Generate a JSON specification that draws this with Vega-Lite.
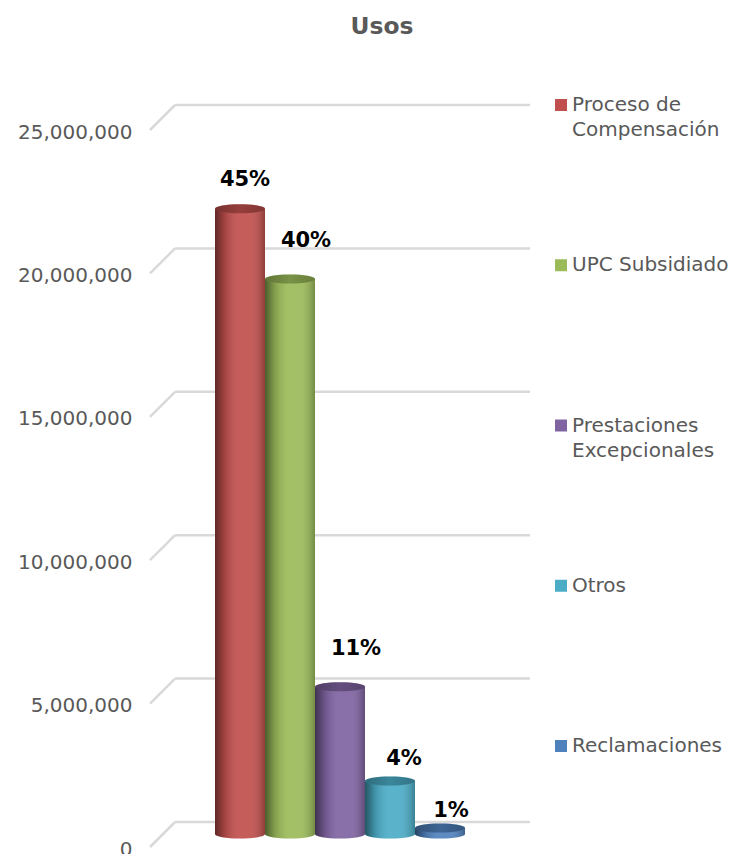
{
"$schema":"https://vega.github.io/schema/vega-lite/v6.json",
"width":380,"height":717,
"autosize":{"type":"none"},
"padding":{"left":150,"top":130,"right":202,"bottom":7},
"background":"white",
"title":{"text":"Usos","font":"DejaVu Sans","fontSize":23.4,"fontWeight":"bold","color":"#595959","anchor":"middle","frame":"group","dx":42,"offset":38,"baseline":"alphabetic"},
"datasets":{
"uses":[
{"categoria":"Proceso de Compensación","valor":21800000,"share":0.45},
{"categoria":"UPC Subsidiado","valor":19350000,"share":0.40},
{"categoria":"Prestaciones Excepcionales","valor":5130000,"share":0.11},
{"categoria":"Otros","valor":1850000,"share":0.04},
{"categoria":"Reclamaciones","valor":210000,"share":0.01}
],
"wall":[
{"tick":0,"front":0,"back":6.6,"right":100},
{"tick":5000000,"front":0,"back":6.6,"right":100},
{"tick":10000000,"front":0,"back":6.6,"right":100},
{"tick":15000000,"front":0,"back":6.6,"right":100},
{"tick":20000000,"front":0,"back":6.6,"right":100},
{"tick":25000000,"front":0,"back":6.6,"right":100}
]},
"resolve":{"scale":{"x":"independent"},"axis":{"x":"independent"}},
"layer":[
{"data":{"name":"wall"},
 "mark":{"type":"rule","color":"#D9D9D9","strokeWidth":2.5,"yOffset":-25,"y2Offset":-25},
 "encoding":{
  "x":{"field":"back","type":"quantitative","scale":{"domain":[0,100]},"axis":null},
  "x2":{"field":"right"},
  "y":{"field":"tick","type":"quantitative","scale":{"domain":[0,25000000],"nice":false},
   "axis":{"title":null,"values":[0,5000000,10000000,15000000,20000000,25000000],"labelExpr":"format(datum.value, ',')","grid":false,"domain":false,"ticks":false,"labelPadding":18,"labelFont":"DejaVu Sans","labelFontSize":20,"labelColor":"#595959","labelOffset":2,"labelOverlap":false,"labelBound":false,"labelFlush":false}},
  "y2":{"field":"tick"}
 }},
{"data":{"name":"wall"},
 "mark":{"type":"rule","color":"#D9D9D9","strokeWidth":2.5,"y2Offset":-25},
 "encoding":{
  "x":{"field":"front","type":"quantitative","scale":{"domain":[0,100]},"axis":null},
  "x2":{"field":"back"},
  "y":{"field":"tick","type":"quantitative"},
  "y2":{"field":"tick"}
 }},
{"data":{"name":"uses"},
 "encoding":{
  "x":{"field":"categoria","type":"nominal","sort":null,"axis":null,
   "scale":{"type":"band","domain":["Proceso de Compensación","UPC Subsidiado","Prestaciones Excepcionales","Otros","Reclamaciones"],"paddingInner":0,"paddingOuter":0,"range":[65,315]}},
  "y":{"field":"valor","type":"quantitative"},
  "color":{"field":"categoria","type":"nominal","sort":null,
    "scale":{"domain":["Proceso de Compensación","UPC Subsidiado","Prestaciones Excepcionales","Otros","Reclamaciones"],"range":["#C0504D","#9BBB59","#8064A2","#4BACC6","#4F81BD"]},
    "legend":{"title":null,"orient":"none","legendX":401,"legendY":-35,"symbolType":"square","symbolSize":144,"symbolStrokeWidth":0,"gridAlign":"all","rowPadding":115.25,"labelFont":"DejaVu Sans","labelFontSize":20,"labelColor":"#595959","labelLimit":300,"labelOffset":1,"labelBaseline":"top","labelExpr":"datum.value == 'Proceso de Compensación' ? ['Proceso de','Compensación'] : datum.value == 'Prestaciones Excepcionales' ? ['Prestaciones','Excepcionales'] : datum.label",
     "encode":{"labels":{"update":{"dy":{"value":-10},"lineHeight":{"value":25}}}}}}
 },
 "layer":[
 {"mark":{"type":"point","filled":true,"opacity":1,"yOffset":-13,"shape":"M-1,0 A1,0.18 0 1,0 1,0 A1,0.18 0 1,0 -1,0 Z","size":2500},
  "encoding":{"y":{"datum":0}}},
 {"mark":{"type":"point","filled":true,"opacity":1,"yOffset":-13,"shape":"M-1,0 A1,0.18 0 1,0 1,0 A1,0.18 0 1,0 -1,0 Z","size":2500,
   "fill":{"gradient":"linear","x1":0,"x2":1,"y1":0,"y2":0,"stops":[{"offset":0,"color":"rgba(0,0,0,0.5)"},{"offset":0.2,"color":"rgba(0,0,0,0.15)"},{"offset":0.45,"color":"rgba(255,255,255,0.08)"},{"offset":0.7,"color":"rgba(255,255,255,0.08)"},{"offset":1,"color":"rgba(0,0,0,0.25)"}]}},
  "encoding":{"y":{"datum":0},"color":null}},
 {"mark":{"type":"bar","yOffset":-13,"y2Offset":-13},
  "encoding":{"y2":{"datum":0}}},
 {"mark":{"type":"bar","yOffset":-13,"y2Offset":-13,
   "fill":{"gradient":"linear","x1":0,"x2":1,"y1":0,"y2":0,"stops":[{"offset":0,"color":"rgba(0,0,0,0.5)"},{"offset":0.2,"color":"rgba(0,0,0,0.15)"},{"offset":0.45,"color":"rgba(255,255,255,0.08)"},{"offset":0.7,"color":"rgba(255,255,255,0.08)"},{"offset":1,"color":"rgba(0,0,0,0.25)"}]}},
  "encoding":{"y2":{"datum":0},"color":null}},
 {"mark":{"type":"point","filled":true,"opacity":1,"yOffset":-13,"shape":"M-1,0 A1,0.18 0 1,0 1,0 A1,0.18 0 1,0 -1,0 Z","size":2500}},
 {"mark":{"type":"point","filled":true,"opacity":1,"yOffset":-13,"shape":"M-1,0 A1,0.18 0 1,0 1,0 A1,0.18 0 1,0 -1,0 Z","size":2500,
   "fill":{"gradient":"linear","x1":0,"x2":1,"y1":0,"y2":0,"stops":[{"offset":0,"color":"rgba(0,0,0,0.38)"},{"offset":0.5,"color":"rgba(0,0,0,0.22)"},{"offset":1,"color":"rgba(0,0,0,0.32)"}]}},
  "encoding":{"color":null}},
 {"transform":[{"filter":"datum.categoria == 'Proceso de Compensación'"}],
  "mark":{"type":"text","font":"DejaVu Sans","fontSize":21,"fontWeight":"bold","color":"black","dx":5,"dy":-42},
  "encoding":{"color":null,"text":{"field":"share","type":"quantitative","format":".0%"}}},
 {"transform":[{"filter":"datum.categoria == 'UPC Subsidiado'"}],
  "mark":{"type":"text","font":"DejaVu Sans","fontSize":21,"fontWeight":"bold","color":"black","dx":16,"dy":-51},
  "encoding":{"color":null,"text":{"field":"share","type":"quantitative","format":".0%"}}},
 {"transform":[{"filter":"datum.categoria == 'Prestaciones Excepcionales'"}],
  "mark":{"type":"text","font":"DejaVu Sans","fontSize":21,"fontWeight":"bold","color":"black","dx":16,"dy":-51},
  "encoding":{"color":null,"text":{"field":"share","type":"quantitative","format":".0%"}}},
 {"transform":[{"filter":"datum.categoria == 'Otros'"}],
  "mark":{"type":"text","font":"DejaVu Sans","fontSize":21,"fontWeight":"bold","color":"black","dx":14,"dy":-35},
  "encoding":{"color":null,"text":{"field":"share","type":"quantitative","format":".0%"}}},
 {"transform":[{"filter":"datum.categoria == 'Reclamaciones'"}],
  "mark":{"type":"text","font":"DejaVu Sans","fontSize":21,"fontWeight":"bold","color":"black","dx":11,"dy":-30},
  "encoding":{"color":null,"text":{"field":"share","type":"quantitative","format":".0%"}}}
 ]}
],
"config":{"view":{"stroke":null}}
}
